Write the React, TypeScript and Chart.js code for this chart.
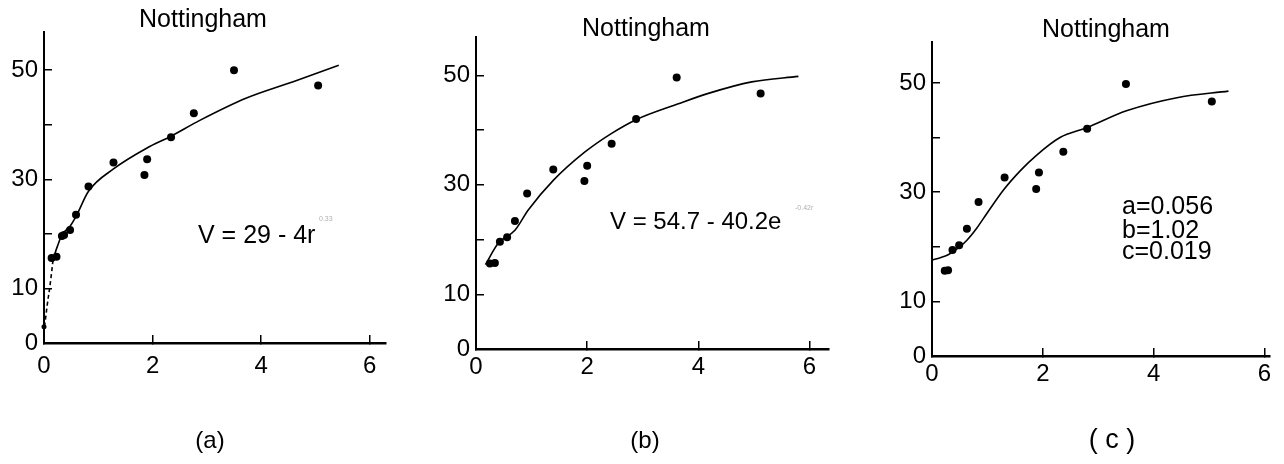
import React, { useEffect, useRef } from "react";
import { Chart, registerables } from "chart.js";

Chart.register(...registerables);

const FONT = '"Liberation Sans", Arial, Helvetica, sans-serif';

// Shared axis ticks
const xTickValues = [0, 2, 4, 6];
const yTickValues = [0, 10, 20, 30, 40, 50];
const yTickLabels = ["0", "10", "", "30", "", "50"];

const titleText = "Nottingham";

// Panel (a): power fit
const aObsX = [0.14, 0.23, 0.33, 0.37, 0.48, 0.59, 0.82, 1.28, 1.85, 1.9, 2.34, 2.76, 3.5, 5.05];
const aObsY = [15.6, 15.8, 19.6, 19.8, 20.7, 23.5, 28.7, 33.1, 30.8, 33.7, 37.7, 42.1, 50.0, 47.2];
const aOriginX = [0.0];
const aOriginY = [3.0];
const aFitX = [0.17, 0.25, 0.33, 0.48, 0.59, 0.82, 1.28, 1.89, 2.34, 2.87, 3.73, 4.59, 5.43];
const aFitY = [15.5, 17.8, 19.8, 21.4, 23.2, 27.8, 31.9, 35.7, 37.9, 40.8, 44.9, 47.9, 50.9];
const aDashX = [0.01, 0.06, 0.11, 0.17];
const aDashY = [3.0, 7.0, 10.5, 15.5];

// Panel (b): exponential fit
const bObsX = [0.25, 0.34, 0.43, 0.56, 0.7, 0.92, 1.39, 1.95, 2.0, 2.44, 2.88, 3.61, 5.12];
const bObsY = [15.6, 15.7, 19.6, 20.4, 23.4, 28.4, 32.8, 30.7, 33.5, 37.5, 42.0, 49.6, 46.7];
const bFitX = [0.17, 0.4, 0.7, 0.94, 1.39, 1.96, 2.44, 2.88, 3.64, 4.18, 4.96, 5.8];
const bFitY = [15.4, 19.3, 21.7, 25.4, 30.8, 36.0, 39.4, 41.9, 44.8, 46.7, 48.8, 49.8];

// Panel (c): three-parameter fit
const cObsX = [0.23, 0.29, 0.37, 0.49, 0.63, 0.84, 1.31, 1.88, 1.93, 2.37, 2.8, 3.5, 5.05];
const cObsY = [15.6, 15.7, 19.4, 20.3, 23.3, 28.2, 32.7, 30.6, 33.6, 37.4, 41.6, 49.8, 46.6];
const cFitX = [0.0, 0.15, 0.3, 0.5, 0.63, 0.8, 0.93, 1.29, 1.6, 1.89, 2.31, 2.79, 3.51, 4.42, 5.35];
const cFitY = [17.6, 18.0, 18.6, 20.0, 21.2, 23.3, 25.2, 30.4, 34.0, 36.8, 40.0, 41.8, 44.9, 47.3, 48.5];
const cParams = ["a=0.056", "b=1.02", "c=0.019"];

const toPts = (xs: number[], ys: number[]) => xs.map((x, i) => ({ x, y: ys[i] }));

type PanelProps = {
  left: number;
  width: number;
  xMax: number;
  yMax: number;
  areaLeft: number;
  areaRight: number;
  areaTop: number;
  areaBottom: number;
  xPad: number;
  yPad: number;
  datasets: any[];
};

function Panel(p: PanelProps) {
  const ref = useRef<HTMLCanvasElement | null>(null);
  useEffect(() => {
    if (!ref.current) return;
    const H = 464;
    const tickFont = { family: FONT, size: 24 };
    const grid = {
      display: true,
      drawOnChartArea: false,
      drawTicks: true,
      tickLength: -8,
      color: "#000",
      lineWidth: 1.5,
    };
    const chart = new Chart(ref.current, {
      type: "scatter",
      data: { datasets: p.datasets },
      options: {
        animation: false,
        responsive: false,
        events: [],
        layout: {
          padding: {
            left: 0,
            top: p.areaTop,
            right: p.width - p.areaRight,
            bottom: H - p.areaBottom - 40,
          },
        },
        plugins: { legend: { display: false }, tooltip: { enabled: false }, title: { display: false } },
        scales: {
          x: {
            type: "linear",
            min: 0,
            max: p.xMax,
            afterBuildTicks: (s: any) => {
              s.ticks = xTickValues.map((v) => ({ value: v }));
            },
            afterFit: (s: any) => {
              s.height = 40;
            },
            ticks: {
              color: "#000",
              font: tickFont,
              padding: p.xPad,
              maxRotation: 0,
              autoSkip: false,
              callback: (v: any) => String(v),
            },
            grid,
            border: { display: true, color: "#000", width: 2.5 },
          },
          y: {
            type: "linear",
            min: 0,
            max: p.yMax,
            afterBuildTicks: (s: any) => {
              s.ticks = yTickValues.map((v) => ({ value: v }));
            },
            afterFit: (s: any) => {
              s.width = p.areaLeft;
            },
            ticks: {
              color: "#000",
              font: tickFont,
              padding: p.yPad,
              autoSkip: false,
              callback: (v: any) => {
                const i = yTickValues.indexOf(Number(v));
                return i >= 0 ? yTickLabels[i] : "";
              },
            },
            grid,
            border: { display: true, color: "#000", width: 2 },
          },
        },
      },
    } as any);
    return () => chart.destroy();
  }, []);
  return (
    <canvas
      ref={ref}
      width={p.width}
      height={464}
      style={{ position: "absolute", left: p.left, top: 0, width: p.width, height: 464 }}
    />
  );
}

const dotSet = (xs: number[], ys: number[], r = 4) => ({
  type: "scatter",
  data: toPts(xs, ys),
  pointRadius: r,
  pointBackgroundColor: "#000",
  pointBorderColor: "#000",
  pointBorderWidth: 0,
  showLine: false,
  clip: false,
});

const lineSet = (xs: number[], ys: number[], dash: number[] = []) => ({
  type: "scatter",
  data: toPts(xs, ys),
  showLine: true,
  pointRadius: 0,
  borderColor: "#000",
  borderWidth: 1.6,
  borderDash: dash,
  tension: 0.4,
  cubicInterpolationMode: "monotone",
  clip: false,
});

type TextProps = { x: number; top: number; size: number; center?: boolean; color?: string; children: any };
function Txt({ x, top, size, center, color, children }: TextProps) {
  return (
    <div
      style={{
        position: "absolute",
        left: x,
        top,
        fontFamily: FONT,
        fontSize: size,
        lineHeight: `${size}px`,
        color: color || "#000",
        whiteSpace: "nowrap",
        transform: center ? "translateX(-50%)" : undefined,
      }}
    >
      {children}
    </div>
  );
}

export default function App() {
  return (
    <div
      style={{
        position: "absolute",
        left: 0,
        top: 0,
        width: 1284,
        height: 464,
        background: "#fff",
        overflow: "hidden",
      }}
    >
      <Panel
        left={0}
        width={428}
        xMax={6.3}
        yMax={57}
        areaLeft={44}
        areaRight={386}
        areaTop={32}
        areaBottom={343}
        xPad={17}
        yPad={14}
        datasets={[
          lineSet(aDashX, aDashY, [4, 3]),
          lineSet(aFitX, aFitY),
          dotSet(aObsX, aObsY),
          dotSet(aOriginX, aOriginY, 2.5),
        ]}
      />
      <Panel
        left={430}
        width={428}
        xMax={6.35}
        yMax={57}
        areaLeft={46}
        areaRight={399}
        areaTop={37}
        areaBottom={349}
        xPad={12}
        yPad={14}
        datasets={[lineSet(bFitX, bFitY), dotSet(bObsX, bObsY)]}
      />
      <Panel
        left={858}
        width={426}
        xMax={6.1}
        yMax={57.5}
        areaLeft={74}
        areaRight={412}
        areaTop={42}
        areaBottom={356}
        xPad={12}
        yPad={14}
        datasets={[lineSet(cFitX, cFitY), dotSet(cObsX, cObsY)]}
      />

      <Txt x={203} top={6} size={25} center>{titleText}</Txt>
      <Txt x={646} top={15} size={25} center>{titleText}</Txt>
      <Txt x={1106} top={15.5} size={25} center>{titleText}</Txt>

      <Txt x={198} top={222} size={25}>V = 29 - 4r</Txt>
      <Txt x={319} top={215} size={7} color="#b0b0b0">0.33</Txt>

      <Txt x={610} top={209} size={24}>V = 54.7 - 40.2e</Txt>
      <Txt x={795} top={204} size={7} color="#b0b0b0">-0.42r</Txt>

      <Txt x={1122} top={193} size={25}>{cParams[0]}</Txt>
      <Txt x={1122} top={216.5} size={25}>{cParams[1]}</Txt>
      <Txt x={1122} top={238} size={25}>{cParams[2]}</Txt>

      <Txt x={210} top={428} size={24} center>(a)</Txt>
      <Txt x={645} top={428} size={24} center>(b)</Txt>
      <Txt x={1112} top={426} size={27} center>( c )</Txt>
    </div>
  );
}
